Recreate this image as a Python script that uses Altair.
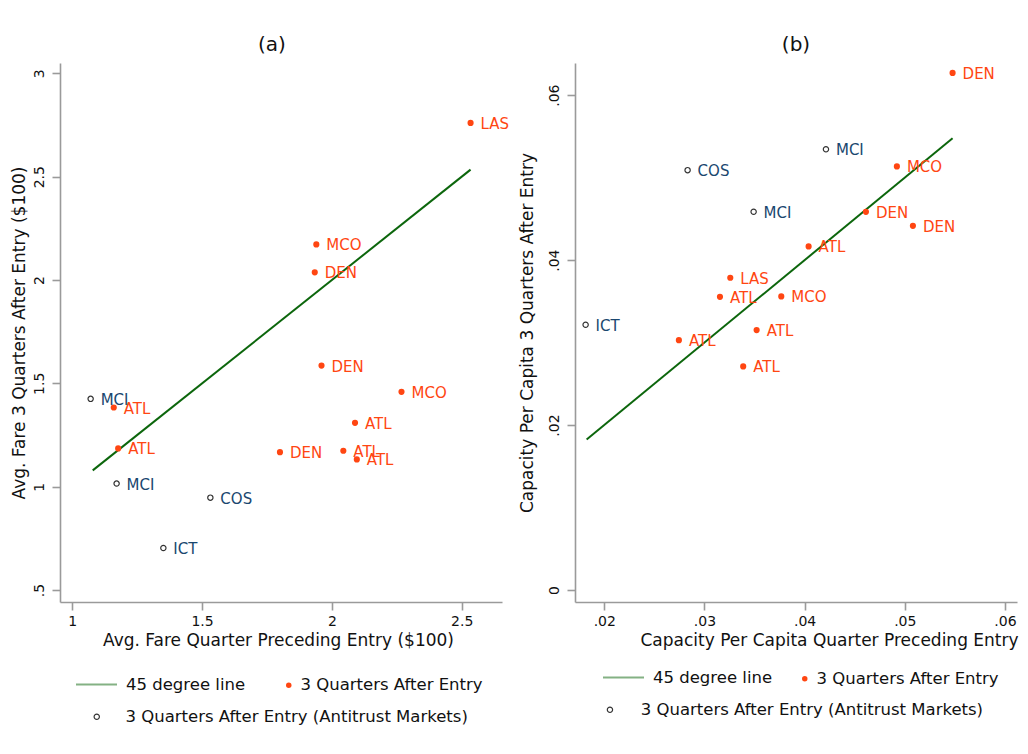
import altair as alt
import pandas as pd

FONT = "DejaVu Sans"
AFTER = "3 Quarters After Entry"
ANTI = "3 Quarters After Entry (Antitrust Markets)"
LINE = "45 degree line"

ORANGE = "#ff4612"
NAVY = "#1a476f"
GREEN = "#0c660c"
HOLLOW = "#333333"

# ---------------- Panel (a): fares ----------------
a_names = ["LAS", "MCO", "DEN", "DEN", "MCO", "ATL", "ATL", "ATL", "DEN", "ATL", "ATL",
           "MCI", "MCI", "COS", "ICT"]
a_groups = [AFTER] * 11 + [ANTI] * 4
a_before = [2.534, 1.940, 1.934, 1.960, 2.268, 2.089, 2.044, 2.096, 1.800, 1.160, 1.177,
            1.071, 1.171, 1.532, 1.351]
a_after = [2.760, 2.172, 2.037, 1.586, 1.459, 1.309, 1.174, 1.132, 1.167, 1.383, 1.185,
           1.425, 1.015, 0.947, 0.703]
a_line = [1.079, 2.534]
a_xticks = [1, 1.5, 2, 2.5]
a_xlabels = ["1", "1.5", "2", "2.5"]
a_yticks = [0.5, 1, 1.5, 2, 2.5, 3]
a_ylabels = [".5", "1", "1.5", "2", "2.5", "3"]
a_xdomain = [0.953, 2.655]
a_ydomain = [0.442, 3.05]

# ---------------- Panel (b): capacity ----------------
b_names = ["DEN", "MCO", "DEN", "DEN", "ATL", "MCO", "LAS", "ATL", "ATL", "ATL", "ATL",
           "MCI", "COS", "MCI", "ICT"]
b_groups = [AFTER] * 11 + [ANTI] * 4
b_before = [0.05477, 0.04921, 0.04612, 0.05081, 0.04040, 0.03767, 0.03258, 0.03155,
            0.02745, 0.03521, 0.03387, 0.04213, 0.02832, 0.03491, 0.01814]
b_after = [0.06270, 0.05136, 0.04586, 0.04416, 0.04166, 0.03560, 0.03786, 0.03555,
           0.03030, 0.03152, 0.02711, 0.05345, 0.05091, 0.04586, 0.03216]
b_line = [0.01824, 0.05477]
b_xticks = [0.02, 0.03, 0.04, 0.05, 0.06]
b_xlabels = [".02", ".03", ".04", ".05", ".06"]
b_yticks = [0, 0.02, 0.04, 0.06]
b_ylabels = ["0", ".02", ".04", ".06"]
b_xdomain = [0.01708, 0.0612]
b_ydomain = [-0.00145, 0.0639]


def label_expr(vals, labels):
    expr = "''"
    for v, l in zip(vals, labels):
        expr = f"abs(datum.value - ({v})) < 1e-9 ? '{l}' : ({expr})"
    return expr


def leg(x, y, offset, **kw):
    return alt.Legend(title=None, orient="none", legendX=x, legendY=y, padding=0,
                      labelFont=FONT, labelFontSize=16.5, labelColor="#111",
                      labelOffset=offset, labelLimit=600, **kw)


def panel(title, title_dx, names, groups, xs, ys, line, xdom, ydom,
          xticks, xlabels, yticks, ylabels, xtitle, ytitle, xtitle_x,
          ytitle_pad, legpos):
    df = pd.DataFrame({"name": names, "group": groups, "x": xs, "y": ys})
    ldf = pd.DataFrame({"x": line, "y": line, "kind": [LINE, LINE]})
    x_enc = alt.X("x:Q", scale=alt.Scale(domain=xdom, nice=False, zero=False),
                  axis=alt.Axis(values=xticks, labelExpr=label_expr(xticks, xlabels),
                                title=xtitle, labelPadding=4, titlePadding=4,
                                titleX=xtitle_x, titleAlign="center", labelAngle=0))
    y_enc = alt.Y("y:Q", scale=alt.Scale(domain=ydom, nice=False, zero=False),
                  axis=alt.Axis(values=yticks, labelExpr=label_expr(yticks, ylabels),
                                title=ytitle, labelAngle=270, labelAlign="center",
                                labelBaseline="alphabetic", labelPadding=9,
                                titlePadding=ytitle_pad))
    (lx, ly, lo), (ox, oy, oo), (hx, hy, ho) = legpos
    line_l = alt.Chart(ldf).mark_line(strokeWidth=2).encode(
        x=x_enc, y=y_enc,
        stroke=alt.Stroke("kind:N", scale=alt.Scale(domain=[LINE], range=[GREEN]),
                          legend=leg(lx, ly, lo, symbolType="stroke", symbolSize=1681,
                                     symbolStrokeWidth=2, symbolOpacity=0.5)))
    hollow = alt.Chart(df).transform_filter(alt.datum.group == ANTI).mark_point(
        filled=False, size=28, strokeWidth=1.2, color=HOLLOW, opacity=1).encode(
        x=x_enc, y=y_enc,
        shape=alt.Shape("group:N", scale=alt.Scale(domain=[ANTI], range=["circle"]),
                        legend=leg(hx, hy, ho, symbolSize=28, symbolStrokeWidth=1.2,
                                   symbolStrokeColor=HOLLOW)))
    dots = alt.Chart(df).transform_filter(alt.datum.group == AFTER).mark_circle(
        size=38, opacity=1).encode(
        x=x_enc, y=y_enc,
        fill=alt.Fill("group:N", scale=alt.Scale(domain=[AFTER], range=[ORANGE]),
                      legend=leg(ox, oy, oo, symbolType="circle", symbolSize=30,
                                 symbolOpacity=1)))
    text = alt.Chart(df).mark_text(align="left", baseline="middle", dx=10, dy=1,
                                   font=FONT, fontSize=15).encode(
        x=x_enc, y=y_enc, text="name:N",
        color=alt.Color("group:N", scale=alt.Scale(domain=[AFTER, ANTI],
                                                   range=[ORANGE, NAVY]), legend=None))
    return alt.layer(line_l, hollow, dots, text).properties(
        width=442, height=539,
        title=alt.TitleParams(title, fontSize=20, font=FONT, fontWeight="normal",
                              color="#111", offset=8, dx=title_dx, anchor="middle"))


pa = panel("(a)", -9, a_names, a_groups, a_before, a_after, a_line, a_xdomain, a_ydomain,
           a_xticks, a_xlabels, a_yticks, a_ylabels,
           "Avg. Fare Quarter Preceding Entry ($100)",
           "Avg. Fare 3 Quarters After Entry ($100)", 218, 4,
           [(15, 600, 8), (220.5, 614, 3.5), (28.5, 645.5, 20.5)])
pb = panel("(b)", 0, b_names, b_groups, b_before, b_after, b_line, b_xdomain, b_ydomain,
           b_xticks, b_xlabels, b_yticks, b_ylabels,
           "Capacity Per Capita Quarter Preceding Entry",
           "Capacity Per Capita 3 Quarters After Entry", 254, 11,
           [(27, 593, 8), (221.5, 607.5, 3.5), (26.7, 638.5, 22.5)])

chart = alt.hconcat(pa, pb, spacing=73, bounds="flush").resolve_scale(
    x="independent", y="independent", color="independent", fill="independent",
    stroke="independent", shape="independent").resolve_legend(
    color="independent", fill="independent", stroke="independent",
    shape="independent").properties(
    padding={"left": 1, "top": 26, "right": 0, "bottom": 0}).configure_view(
    stroke="transparent").configure_axis(
    domainColor="#9a9a9a", domainWidth=1.6, tickColor="#9a9a9a", tickWidth=1.6,
    tickSize=8, labelFont=FONT, labelFontSize=14, labelColor="#111",
    titleFont=FONT, titleFontSize=17, titleFontWeight="normal", titleColor="#111",
    grid=False)

chart.save("out.html", embed_options={"renderer": "svg", "actions": False})
